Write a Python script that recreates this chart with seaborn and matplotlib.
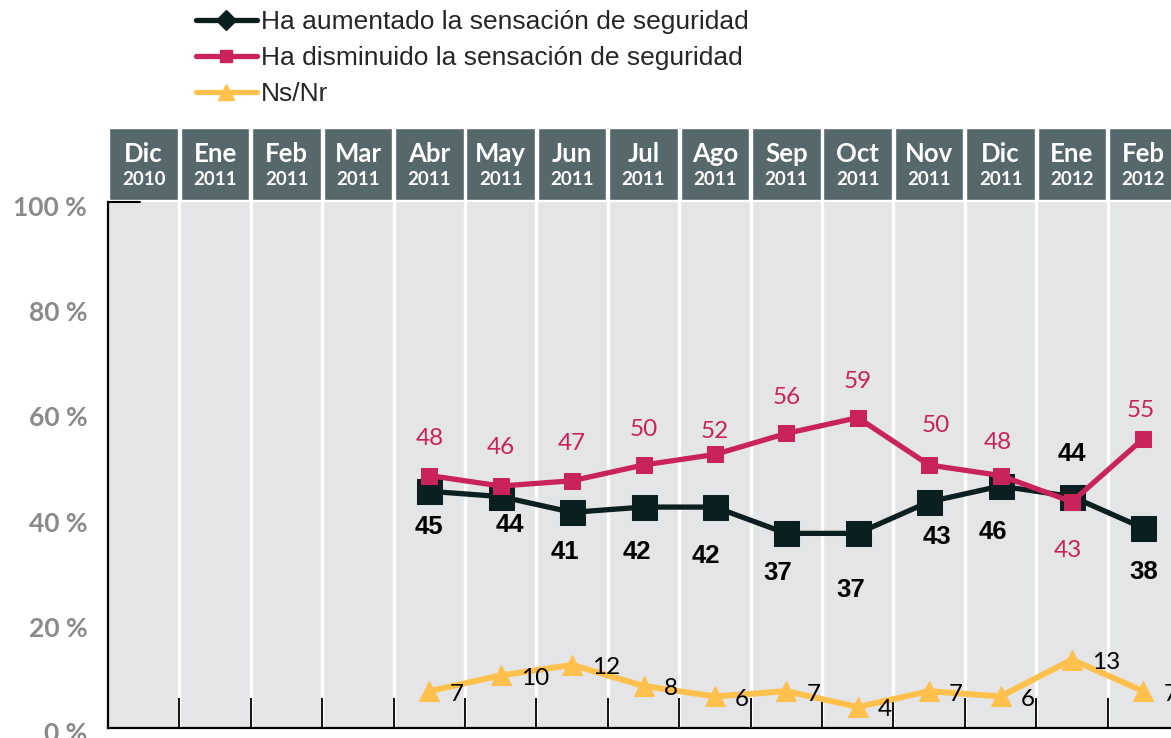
import numpy as np
import pandas as pd
import matplotlib
matplotlib.use("Agg")
import matplotlib.pyplot as plt
import seaborn as sns
from matplotlib.lines import Line2D
from matplotlib.transforms import ScaledTranslation

# ---------------- data ----------------
months = ["Dic", "Ene", "Feb", "Mar", "Abr", "May", "Jun", "Jul", "Ago",
          "Sep", "Oct", "Nov", "Dic", "Ene", "Feb"]
years = ["2010", "2011", "2011", "2011", "2011", "2011", "2011", "2011", "2011",
         "2011", "2011", "2011", "2011", "2012", "2012"]
data_months = ["Abr 2011", "May 2011", "Jun 2011", "Jul 2011", "Ago 2011", "Sep 2011",
               "Oct 2011", "Nov 2011", "Dic 2011", "Ene 2012", "Feb 2012"]
aumentado = [45, 44, 41, 42, 42, 37, 37, 43, 46, 44, 38]
disminuido = [48, 46, 47, 50, 52, 56, 59, 50, 48, 43, 55]
nsnr = [7, 10, 12, 8, 6, 7, 4, 7, 6, 13, 7]
series_names = ["Ha aumentado la sensación de seguridad",
                "Ha disminuido la sensación de seguridad",
                "Ns/Nr"]
yticks = [0, 20, 40, 60, 80, 100]
ytick_labels = ["0 %", "20 %", "40 %", "60 %", "80 %", "100 %"]

# ---------------- layout / style ----------------
# label offsets in pixels (layout only)
aum_offsets = [(0, -36), (9, -28), (-7, -40), (-7, -45), (-9, -49), (-9, -40),
               (-7, -57), (8, -35), (-8, -46), (0, 43), (0, -44)]
dis_offsets = [(0, 37), (0, 39), (0, 37), (0, 36), (0, 23), (0, 36),
               (0, 36), (7, 40), (-3, 33), (-4, -49), (-3, 28)]

C_AUM = "#0b1f21"
C_DIS = "#c8235a"
C_NS = "#ffc04c"
C_HEAD = "#56686c"
C_BG = "#e4e5e7"
CAL = ["Lato", "DejaVu Sans"]
ARIAL = ["Liberation Sans", "DejaVu Sans"]

sns.set_style("white")
plt.rcParams["font.family"] = ARIAL

W, H = 1171, 738
fig = plt.figure(figsize=(W / 100, H / 100), dpi=100)

left = 108 / W
width = (15 * 71.4) / W
bottom = (H - 728) / H
height = (728 - 202) / H
ax = fig.add_axes([left, bottom, width, height])
ax.set_facecolor(C_BG)
ax.set_axisbelow(False)

x_all = np.arange(len(months))
start = months.index("Abr")
xd = x_all[start:start + len(data_months)]

df = pd.DataFrame({"x": xd, "aum": aumentado, "dis": disminuido, "ns": nsnr})

# column separators
for b in np.arange(0.5, len(months) - 0.5, 1.0):
    ax.axvline(b, color="white", lw=2.4, zorder=0.8)

sns.lineplot(data=df, x="x", y="aum", ax=ax, color=C_AUM, lw=3.8, marker="s",
             markersize=18, markeredgecolor=C_AUM, legend=False, zorder=3)
sns.lineplot(data=df, x="x", y="dis", ax=ax, color=C_DIS, lw=3.8, marker="s",
             markersize=12, markeredgecolor=C_DIS, legend=False, zorder=4)
sns.lineplot(data=df, x="x", y="ns", ax=ax, color=C_NS, lw=4.3, marker="^",
             markersize=15, markeredgecolor=C_NS, legend=False, zorder=4)

ax.set_xlim(-0.5, len(months) - 0.5)
ax.set_ylim(0, 100)
ax.set_xlabel("")
ax.set_ylabel("")

# x ticks at column boundaries, pointing up
ax.set_xticks(np.arange(0.5, len(months) - 1, 1.0))
ax.set_xticklabels([])
ax.tick_params(axis="x", direction="in", length=21.5, width=1.3, color="black",
               bottom=True, top=False)
ax.set_yticks(yticks)
ax.set_yticklabels(ytick_labels, fontfamily=CAL, fontweight="bold",
                   fontsize=19, color="#8a8a8a")
ax.tick_params(axis="y", length=0, pad=15, left=False)
for lab in ax.get_yticklabels():
    lab.set_transform(lab.get_transform() +
                      ScaledTranslation(0, -4 / 100, fig.dpi_scale_trans))

for s in ["top", "right"]:
    ax.spines[s].set_visible(False)
for s in ["left", "bottom"]:
    ax.spines[s].set_color("black")
    ax.spines[s].set_linewidth(1.6)
    ax.spines[s].set_zorder(5)
ax.axhline(100, xmin=0, xmax=32 / (15 * 71.4), color="black", lw=1.5,
           clip_on=False, zorder=5)

# data labels
for xi, v, (dx, dy) in zip(xd, aumentado, aum_offsets):
    ax.annotate(str(v), (xi, v), xytext=(dx, dy), textcoords="offset pixels",
                ha="center", va="center", fontsize=18.5, fontweight="bold",
                color="black", fontfamily=ARIAL, zorder=6)
for xi, v, (dx, dy) in zip(xd, disminuido, dis_offsets):
    ax.annotate(str(v), (xi, v), xytext=(dx, dy), textcoords="offset pixels",
                ha="center", va="center", fontsize=17.5, color=C_DIS,
                fontfamily=CAL, zorder=6)
for xi, v in zip(xd, nsnr):
    ax.annotate(str(v), (xi, v), xytext=(20, -3), textcoords="offset pixels",
                ha="left", va="center", fontsize=17.5, color="black",
                fontfamily=CAL, zorder=6)

# header with month boxes
hax = fig.add_axes([left, (H - 200) / H, width, 72 / H])
hax.bar(x_all, [1] * len(months), width=0.958, color=C_HEAD)
hax.set_xlim(-0.5, len(months) - 0.5)
hax.set_ylim(0, 1)
hax.axis("off")
for xi, m, yv in zip(x_all, months, years):
    hax.text(xi, 0.64, m, ha="center", va="center", color="white",
             fontsize=18.5, fontweight="bold", fontfamily=CAL)
    hax.text(xi, 0.29, yv, ha="center", va="center", color="white",
             fontsize=13.5, fontweight="bold", fontfamily=CAL)

# legend
handles = [
    Line2D([], [], color=C_AUM, lw=3.8, marker="D", markersize=10),
    Line2D([], [], color=C_DIS, lw=3.8, marker="s", markersize=8),
    Line2D([], [], color=C_NS, lw=3.8, marker="^", markersize=12),
]
fig.legend(handles, series_names, loc="upper left",
           bbox_to_anchor=(196 / W, 1 - 10 / H), frameon=False,
           prop={"family": ARIAL, "size": 19}, handlelength=2.3,
           handletextpad=0.15, labelspacing=0.46, borderpad=0, borderaxespad=0)

fig.savefig("out.png", dpi=100)
